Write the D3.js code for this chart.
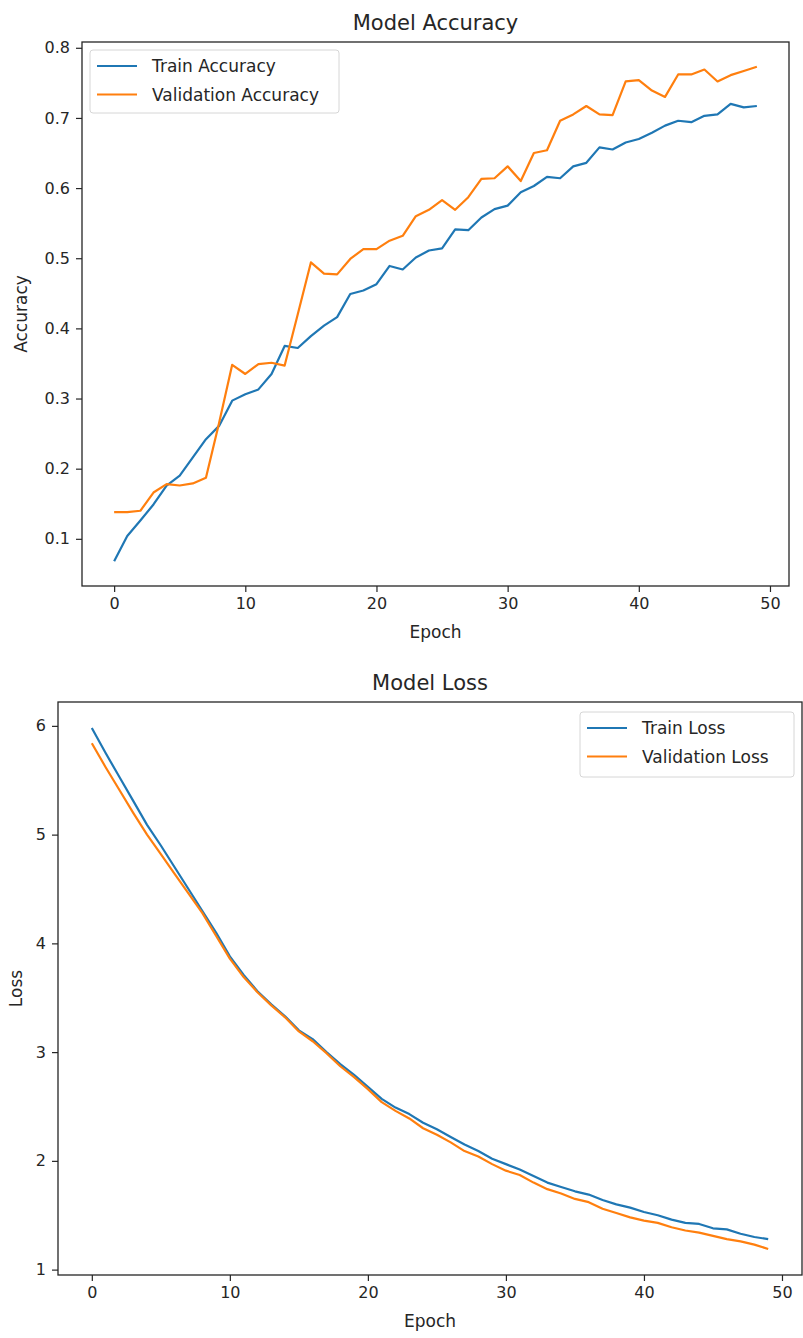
<!DOCTYPE html>
<html>
<head>
<meta charset="utf-8">
<script src="https://cdn.jsdelivr.net/npm/d3@7"></script>
<style>
  body { margin: 0; background: #fff; }
  svg { display: block; font-family: "DejaVu Sans", sans-serif; }
</style>
</head>
<body>
<div id="chart"></div>
<script>
// valores
const epochs = [0,1,2,3,4,5,6,7,8,9,10,11,12,13,14,15,16,17,18,19,20,21,22,23,24,
  25,26,27,28,29,30,31,32,33,34,35,36,37,38,39,40,41,42,43,44,45,46,47,48,49];

const trainAcc = [0.068,0.104,0.126,0.149,0.176,0.190,0.216,0.242,0.261,0.297,
  0.306,0.313,0.335,0.375,0.372,0.389,0.404,0.416,0.449,0.454,
  0.463,0.489,0.484,0.501,0.511,0.514,0.541,0.540,0.558,0.570,
  0.575,0.594,0.603,0.616,0.614,0.631,0.636,0.658,0.655,0.665,
  0.670,0.679,0.689,0.696,0.694,0.703,0.705,0.720,0.715,0.717];

const valAcc = [0.138,0.138,0.140,0.166,0.178,0.176,0.179,0.187,0.265,0.348,
  0.335,0.349,0.351,0.347,0.420,0.494,0.478,0.477,0.499,0.513,
  0.513,0.525,0.532,0.560,0.569,0.583,0.569,0.587,0.613,0.614,
  0.631,0.610,0.650,0.654,0.696,0.705,0.717,0.705,0.704,0.752,
  0.754,0.739,0.730,0.762,0.762,0.769,0.752,0.761,0.767,0.773];

const trainLoss = [5.98,5.75,5.53,5.31,5.09,4.90,4.70,4.50,4.30,4.10,
  3.88,3.71,3.56,3.44,3.33,3.20,3.12,3.00,2.89,2.79,
  2.68,2.57,2.49,2.43,2.35,2.29,2.22,2.15,2.09,2.02,
  1.97,1.92,1.86,1.80,1.76,1.72,1.69,1.64,1.60,1.57,
  1.53,1.50,1.46,1.43,1.42,1.38,1.37,1.33,1.30,1.28];

const valLoss = [5.84,5.62,5.41,5.20,5.00,4.82,4.64,4.46,4.28,4.07,
  3.86,3.69,3.55,3.43,3.32,3.19,3.10,2.99,2.87,2.77,
  2.66,2.54,2.46,2.39,2.30,2.24,2.17,2.09,2.04,1.97,
  1.91,1.87,1.80,1.74,1.70,1.65,1.62,1.56,1.52,1.48,
  1.45,1.43,1.39,1.36,1.34,1.31,1.28,1.26,1.23,1.19];

const xTicks = [0, 10, 20, 30, 40, 50];
const accTicks = [0.1, 0.2, 0.3, 0.4, 0.5, 0.6, 0.7, 0.8];
const lossTicks = [1, 2, 3, 4, 5, 6];

const azul = "#1f77b4";
const laranja = "#ff7f0e";
const corTexto = "#262626";

const svg = d3.select("#chart").append("svg")
    .attr("width", 803)
    .attr("height", 1338);

// margem estilo matplotlib: 5% de cada lado
function dominio(valores) {
  const [min, max] = d3.extent(valores);
  const pad = (max - min) * 0.05;
  return [min - pad, max + pad];
}

function montarPainel(cfg) {
  const { left, right, top, bottom } = cfg.box;

  const x = d3.scaleLinear().domain(dominio(epochs)).range([left, right]);
  const y = d3.scaleLinear()
      .domain(dominio(cfg.series.flatMap(s => s.values)))
      .range([bottom, top]);

  const g = svg.append("g");

  // eixos
  const eixoX = g.append("g")
      .attr("transform", `translate(0, ${bottom})`)
      .call(d3.axisBottom(x).tickValues(xTicks).tickSize(6).tickPadding(6).tickFormat(d3.format("d")));

  const eixoY = g.append("g")
      .attr("transform", `translate(${left}, 0)`)
      .call(d3.axisLeft(y).tickValues(cfg.ticks).tickSize(6).tickPadding(6).tickFormat(cfg.format));

  [eixoX, eixoY].forEach(a => {
    a.select(".domain").remove();
    a.selectAll(".tick line").attr("stroke", corTexto).attr("stroke-width", 1.2);
    a.selectAll(".tick text").attr("fill", corTexto).attr("font-size", 16)
        .attr("font-family", "DejaVu Sans");
  });

  // linhas
  const linha = d3.line().x((d, i) => x(epochs[i])).y(d => y(d));

  g.selectAll("path.serie")
      .data(cfg.series)
      .enter()
      .append("path")
      .attr("class", "serie")
      .attr("d", d => linha(d.values))
      .attr("fill", "none")
      .attr("stroke", d => d.color)
      .attr("stroke-width", 2.2)
      .attr("stroke-linejoin", "round");

  // moldura
  g.append("rect")
      .attr("x", left)
      .attr("y", top)
      .attr("width", right - left)
      .attr("height", bottom - top)
      .attr("fill", "none")
      .attr("stroke", corTexto)
      .attr("stroke-width", 1.3);

  // título e rótulos
  g.append("text")
      .attr("x", (left + right) / 2)
      .attr("y", top - 12)
      .attr("text-anchor", "middle")
      .attr("font-size", 21)
      .attr("fill", corTexto)
      .text(cfg.title);

  g.append("text")
      .attr("x", (left + right) / 2)
      .attr("y", bottom + 52)
      .attr("text-anchor", "middle")
      .attr("font-size", 17)
      .attr("fill", corTexto)
      .text("Epoch");

  g.append("text")
      .attr("transform", `translate(${cfg.yLabelX}, ${(top + bottom) / 2}) rotate(-90)`)
      .attr("text-anchor", "middle")
      .attr("font-size", 17)
      .attr("fill", corTexto)
      .text(cfg.yLabel);

  // legenda
  const leg = cfg.legend;
  const legenda = g.append("g").attr("transform", `translate(${leg.x}, ${leg.y})`);

  legenda.append("rect")
      .attr("width", leg.w)
      .attr("height", leg.h)
      .attr("rx", 3)
      .attr("fill", "#fff")
      .attr("fill-opacity", 0.8)
      .attr("stroke", "#d6d6d6")
      .attr("stroke-width", 1);

  const itens = legenda.selectAll("g.item")
      .data(cfg.series)
      .enter()
      .append("g")
      .attr("class", "item")
      .attr("transform", (d, i) => `translate(0, ${16 + i * 28.5})`);

  itens.append("line")
      .attr("x1", 7)
      .attr("x2", 47)
      .attr("stroke", d => d.color)
      .attr("stroke-width", 2.2);

  itens.append("text")
      .attr("x", 62)
      .attr("y", 6)
      .attr("font-size", 17)
      .attr("fill", corTexto)
      .text(d => d.name);
}

montarPainel({
  box: { left: 82, right: 789, top: 42, bottom: 586 },
  title: "Model Accuracy",
  yLabel: "Accuracy",
  yLabelX: 27,
  ticks: accTicks,
  format: d3.format(".1f"),
  series: [
    { name: "Train Accuracy", values: trainAcc, color: azul },
    { name: "Validation Accuracy", values: valAcc, color: laranja }
  ],
  legend: { x: 90, y: 50, w: 249, h: 63 }
});

montarPainel({
  box: { left: 58, right: 802, top: 702, bottom: 1275 },
  title: "Model Loss",
  yLabel: "Loss",
  yLabelX: 22,
  ticks: lossTicks,
  format: d3.format("d"),
  series: [
    { name: "Train Loss", values: trainLoss, color: azul },
    { name: "Validation Loss", values: valLoss, color: laranja }
  ],
  legend: { x: 580, y: 712, w: 214, h: 65 }
});
</script>
</body>
</html>
